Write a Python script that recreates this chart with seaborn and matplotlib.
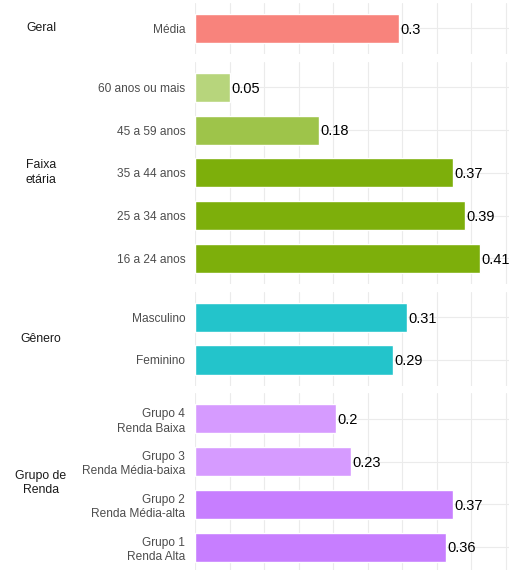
import matplotlib
matplotlib.use("Agg")
import matplotlib.pyplot as plt
import pandas as pd
import seaborn as sns

# data, top to bottom inside each panel
grupos = ["Geral", "Faixa\netária", "Gênero", "Grupo de\nRenda"]
categorias = [
    ["Média"],
    ["60 anos ou mais", "45 a 59 anos", "35 a 44 anos", "25 a 34 anos", "16 a 24 anos"],
    ["Masculino", "Feminino"],
    ["Grupo 4\nRenda Baixa", "Grupo 3\nRenda Média-baixa",
     "Grupo 2\nRenda Média-alta", "Grupo 1\nRenda Alta"],
]
valores = [
    [0.296],
    [0.05, 0.18, 0.374, 0.391, 0.413],
    [0.307, 0.287],
    [0.204, 0.226, 0.374, 0.364],
]
cores = [
    ["#F8837C"],
    ["#B7D57C", "#9EC44A", "#7DAF0B", "#7DAF0B", "#7DAF0B"],
    ["#23C4CB", "#23C4CB"],
    ["#D69BFF", "#D69BFF", "#C77EFF", "#C77EFF"],
]

sns.set_theme(style="whitegrid")
plt.rcParams["font.family"] = ["Liberation Sans", "DejaVu Sans"]

W, H = 509, 570
fig = plt.figure(figsize=(W / 100, H / 100), dpi=100)

unit = 42.75   # px per category
gap = 7.6      # px between panels
top = 2.8
left = 195
xmax = (W - left) / 690

y = top
for g, cats, vals, cols in zip(grupos, categorias, valores, cores):
    n = len(cats)
    h = (n + 0.2) * unit
    ax = fig.add_axes([left / W, 1 - (y + h) / H, (W - left) / W, h / H])
    df = pd.DataFrame({"cat": cats, "val": vals})
    sns.barplot(data=df, x="val", y="cat", hue="cat", palette=cols,
                orient="h", width=0.68, legend=False, ax=ax, saturation=1)
    ax.set_xlim(0, xmax)
    ax.set_ylim(n - 1 + 0.6, -0.6)
    ax.set_xticks([0, 0.1, 0.2, 0.3, 0.4])
    ax.set_xticks([0.05, 0.15, 0.25, 0.35, 0.45], minor=True)
    ax.grid(True, which="both", axis="x", color="#EBEBEB", lw=0.8)
    ax.grid(True, which="major", axis="y", color="#EBEBEB", lw=0.8)
    ax.set_axisbelow(True)
    ax.set_xticklabels([])
    ax.tick_params(axis="both", which="both", length=0)
    ax.tick_params(axis="y", pad=7, labelsize=8.6, labelcolor="#4D4D4D")
    for lbl in ax.get_yticklabels():
        lbl.set_horizontalalignment("right")
        lbl.set_linespacing(1.25)
    ax.set_xlabel("")
    ax.set_ylabel("")
    for s in ax.spines.values():
        s.set_visible(False)
    ax.set_facecolor("white")
    for i, v in enumerate(vals):
        ax.text(v + 0.002, i + 0.03, f"{round(v, 2):g}", va="center", ha="left",
                fontsize=10.5, color="black")
    fig.text(41 / W, 1 - (y + h / 2) / H, g, ha="center", va="center",
             fontsize=8.8, color="#1A1A1A", linespacing=1.3)
    y += h + gap

fig.savefig("out.png", dpi=100, facecolor="white")
